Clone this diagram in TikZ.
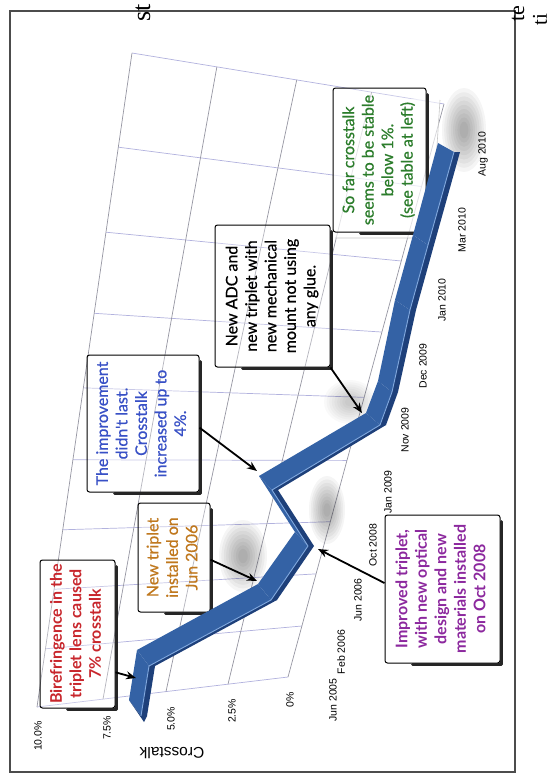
\documentclass[tikz,border=0pt]{standalone}
\usepackage{fontspec}
\setmainfont{Lato}
\newfontfamily\medfont{Lato}[FakeBold=0.6]
\newfontfamily\arialf{Liberation Sans}
\newfontfamily\timesf{Liberation Serif}
\usetikzlibrary{arrows.meta,calc}
\definecolor{cred}{RGB}{200,38,44}
\definecolor{corange}{RGB}{192,120,30}
\definecolor{cblue}{RGB}{56,80,198}
\definecolor{cgreen}{RGB}{44,125,44}
\definecolor{cpurple}{RGB}{140,40,158}
\definecolor{gridvc}{RGB}{150,150,162}
\definecolor{gridhc}{RGB}{178,178,222}
\definecolor{ribtop}{RGB}{52,98,165}
\definecolor{ribfront}{RGB}{30,64,122}
\definecolor{ribhi}{RGB}{128,168,222}
\newcommand\boxtext[3]{\rotatebox{90}{\fontsize{16}{19.5}\selectfont#2\color{#1}\begin{tabular}{@{}c@{}}#3\end{tabular}}}
\begin{document}
\begin{tikzpicture}[x=1pt,y=-1pt,
  gridv/.style={draw=gridvc, line width=0.7pt},
  gridh/.style={draw=gridhc, line width=0.7pt},
  calloutbox/.style={draw=black, line width=1pt, rounded corners=2.5pt, fill=white, fill opacity=0.3, text opacity=1, inner sep=0pt},
  boxshadow/.style={draw=black!85, line width=2.8pt, line cap=round, line join=round},
  arr/.style={draw=black, line width=1.8pt, -{Stealth[length=10pt,width=8pt]}},
  axlab/.style={font=\arialf\fontsize{10.5}{12}\selectfont, inner sep=0pt},
  fuzzy/.style={fill=black, opacity=0.04}]
\useasboundingbox (0,0) rectangle (550,782);
\fill[white] (0,0) rectangle (550,782);
% frame
\draw[black!70, line width=1.1pt] (10,11) rectangle (515,772);
% stray text fragments
\node[inner sep=0pt] (st) at (143,13) {\rotatebox{90}{\timesf\fontsize{26}{26}\selectfont st}};
\node[inner sep=0pt] (te) at (518,14) {\rotatebox{90}{\timesf\fontsize{22}{22}\selectfont te}};
\node[inner sep=0pt] (ti) at (540,20) {\rotatebox{90}{\timesf\fontsize{21}{21}\selectfont ti}};
% grid wall
\coordinate (TL) at (132,53);
\coordinate (TR) at (444,104);
\coordinate (BR) at (288,677);
\coordinate (BL) at (37,707);
\foreach \t in {0,0.144,0.274,0.398,0.512,0.622,0.729,0.820,0.911,1}
  \draw[gridh] ($(TL)!\t!(BL)$) -- ($(TR)!\t!(BR)$);
\foreach \a/\b in {0/0,0.272/0.263,0.528/0.514,0.768/0.761,1/1}
  \draw[gridv] ($(TL)!\a!(TR)$) -- ($(BL)!\b!(BR)$);
% light backdrop behind green note
\fill[white, opacity=0.6] (333,96) -- (440,100) -- (431,238) -- (333,238) -- cycle;
\draw[black!22, line width=0.6pt] (440,100) -- (431,238) -- (335,238);
% soft shadows
\foreach \s in {1,0.9,0.8,0.7,0.6,0.5,0.4,0.3,0.2}{
  \fill[fuzzy] (243,556) ellipse [x radius=24*\s, y radius=36*\s];
  \fill[fuzzy] (327,510) ellipse [x radius=18*\s, y radius=34*\s];
  \fill[fuzzy] (464,130) ellipse [x radius=22*\s, y radius=42*\s];
  \fill[fuzzy, opacity=0.022] (350,402) ellipse [x radius=26*\s, y radius=22*\s];
}
% ribbon coordinates (front edge P, back edge B, front face F)
\coordinate (P1) at (141,716);  \coordinate (B1) at (129,700);  \coordinate (F1) at (147,716);
\coordinate (P2) at (149,666);  \coordinate (B2) at (137,650);  \coordinate (F2) at (155,666);
\coordinate (P3) at (271,600);  \coordinate (B3) at (258,584);  \coordinate (F3) at (277,600);
\coordinate (P4) at (308,546);  \coordinate (B4) at (295,532);  \coordinate (F4) at (314,546);
\coordinate (P5) at (272,490);  \coordinate (B5) at (259,476);  \coordinate (F5) at (278,490);
\coordinate (P6) at (380,425);  \coordinate (B6) at (366,413);  \coordinate (F6) at (386,425);
\coordinate (P7) at (392,392);  \coordinate (B7) at (378,381);  \coordinate (F7) at (398,392);
\coordinate (P8) at (410,310);  \coordinate (B8) at (395,300);  \coordinate (F8) at (416,310);
\coordinate (P9) at (428,245);  \coordinate (B9) at (413,235);  \coordinate (F9) at (434,245);
\coordinate (P10) at (454,152); \coordinate (B10) at (438,143); \coordinate (F10) at (460,152);
% boxes
\node[calloutbox, minimum width=75pt, minimum height=148pt] (A) at (77.5,634)
  {\boxtext{cred}{\bfseries}{Birefringence in the\\triplet lens caused\\7\% crosstalk}};
\node[calloutbox, minimum width=72pt, minimum height=109pt] (B) at (174,557.5)
  {\boxtext{corange}{\medfont}{New triplet\\installed on\\Jun 2006}};
\node[calloutbox, minimum width=112pt, minimum height=137pt] (C) at (143,423.5)
  {\boxtext{cblue}{\medfont}{The improvement\\didn't last.\\Crosstalk\\increased up to\\4\%.}};
\node[calloutbox, minimum width=115pt, minimum height=142pt] (D) at (272.5,296)
  {\boxtext{black}{\medfont}{New ADC and\\new triplet with\\new mechanical\\mount not using\\any glue.}};
\node[calloutbox, minimum width=93pt, minimum height=144pt] (E) at (379.5,160)
  {\boxtext{cgreen}{\medfont}{So far crosstalk\\seems to be stable\\below 1\%.\\(see table at left)}};
\node[calloutbox, minimum width=115pt, minimum height=148pt] (F) at (442.5,589)
  {\boxtext{cpurple}{\bfseries}{Improved triplet,\\with new optical\\design and new\\materials installed\\on Oct 2008}};
\foreach \n in {A,B,C,D,E,F}
  \draw[boxshadow] ($(\n.north east)+(1.2,7)$) -- ($(\n.south east)+(1.2,1.2)$) -- ($(\n.south west)+(28,1.2)$);
% ribbon faces
\foreach \a/\b in {1/2,2/3,3/4,4/5,5/6,6/7,7/8,8/9,9/10}
  \fill[ribtop] (P\a) -- (P\b) -- (B\b) -- (B\a) -- cycle;
\foreach \a/\b in {1/2,2/3,3/4,4/5,5/6,6/7,7/8,8/9,9/10}
  \fill[ribfront] (P\a) -- (P\b) -- (F\b) -- (F\a) -- cycle;
\fill[ribfront] (B1) -- (P1) -- (F1) -- (144,722) -- cycle;
\draw[ribhi, line width=0.9pt, line join=round]
  (P1) -- (P2) -- (P3) -- (P4) -- (P5) -- (P6) -- (P7) -- (P8) -- (P9) -- (P10);
% arrow targets on the ribbon
\coordinate (tA) at (136,678);
\coordinate (tB) at (257,581);
\coordinate (tC) at (257,471);
\coordinate (tD) at (362,413);
\coordinate (tF) at (318,549);
\draw[arr] ($(A.north east)!0.757!(A.south east)$) -- (tA);
\draw[arr] ($(B.north east)!0.52!(B.south east)$) -- (tB);
\draw[arr] ($(C.north east)!0.53!(C.south east)$) -- (tC);
\draw[arr] (D.south east) -- (tD);
\draw[arr] ($(F.north west)!0.46!(F.south west)$) -- (tF);
% value axis labels
\node[axlab] (v10) at (38,736) {\rotatebox{90}{10.0\%}};
\node[axlab] (v75) at (107,728) {\rotatebox{90}{7.5\%}};
\node[axlab] (v50) at (171,719) {\rotatebox{90}{5.0\%}};
\node[axlab] (v25) at (232,711) {\rotatebox{90}{2.5\%}};
\node[axlab] (v0) at (290,700) {\rotatebox{90}{0\%}};
\node[inner sep=0pt, font=\arialf\fontsize{15.5}{17}\selectfont] (ylab) at (172,753) {\rotatebox{180}{Crosstalk}};
% date labels
\node[axlab] (d1) at (333,700) {\rotatebox{90}{Jun 2005}};
\node[axlab] (d2) at (341,652) {\rotatebox{90}{Feb 2006}};
\node[axlab] (d3) at (358,600) {\rotatebox{90}{Jun 2006}};
\node[axlab] (d4) at (373,545) {\rotatebox{90}{Oct 2008}};
\node[axlab] (d5) at (388,492) {\rotatebox{90}{Jan 2009}};
\node[axlab] (d6) at (405,430) {\rotatebox{90}{Nov 2009}};
\node[axlab] (d7) at (423,366) {\rotatebox{90}{Dec 2009}};
\node[axlab] (d8) at (442,300) {\rotatebox{90}{Jan 2010}};
\node[axlab] (d9) at (462,230) {\rotatebox{90}{Mar 2010}};
\node[axlab] (d10) at (483,154) {\rotatebox{90}{Aug 2010}};
\end{tikzpicture}
\end{document}
